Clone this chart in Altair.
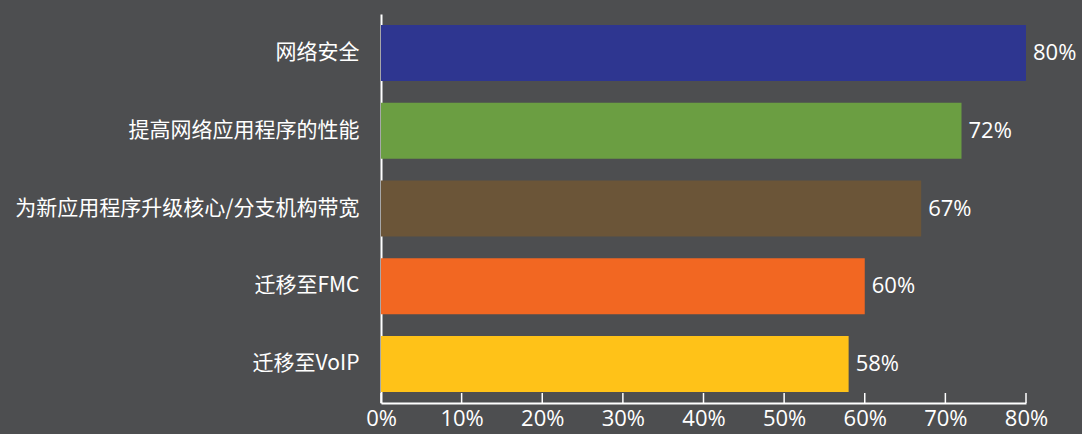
import altair as alt
import pandas as pd

categories = ["网络安全", "提高网络应用程序的性能", "为新应用程序升级核心/分支机构带宽", "迁移至FMC", "迁移至VoIP"]
values = [80, 72, 67, 60, 58]
colors = ["#2e3690", "#6b9e42", "#6b5538", "#f26722", "#ffc218"]
labels = [f"{v}%" for v in values]
tick_values = [0, 10, 20, 30, 40, 50, 60, 70, 80]

BG = "#4d4e50"
H = 389
df = pd.DataFrame({"cat": categories, "val": values, "label": labels})
tdf = pd.DataFrame({"t": tick_values})

xscale = alt.Scale(domain=[0, 80])

bars = alt.Chart(df).mark_bar().encode(
    x=alt.X("val:Q", title=None, scale=xscale,
            axis=alt.Axis(values=tick_values,
                          labelExpr="datum.value + '%'",
                          labelAlign="center", labelFlush=False, labelOverlap=False,
                          labelColor="white", labelFontSize=22, labelFont="Open Sans",
                          labelPadding=5, ticks=False,
                          domainColor="white", domainWidth=2, grid=False)),
    y=alt.Y("cat:N", sort=categories, title=None,
            scale=alt.Scale(paddingInner=0.28, paddingOuter=0.14),
            axis=alt.Axis(labelColor="white", labelFontSize=21, labelFont="Noto Sans CJK SC",
                          labelPadding=22, ticks=False, domainColor="white", domainWidth=2,
                          labelLimit=400)),
    color=alt.Color("cat:N", scale=alt.Scale(domain=categories, range=colors), legend=None),
)

text = alt.Chart(df).mark_text(align="left", baseline="middle", dx=7, color="white",
                               fontSize=22, font="Open Sans").encode(
    x="val:Q", y=alt.Y("cat:N", sort=categories), text="label:N")

ticks = alt.Chart(tdf).mark_rule(color="white", strokeWidth=1.5).encode(
    x=alt.X("t:Q", scale=xscale),
    y=alt.value(H - 10), y2=alt.value(H))

chart = (bars + text + ticks).properties(
    width=645, height=H, background=BG,
    padding={"left": 381, "top": 14, "right": 56, "bottom": 30},
    autosize=alt.AutoSizeParams(type="none"),
).configure_view(stroke=None)

chart.save("out.html", embed_options={"renderer": "svg", "actions": False})

with open("out.html", encoding="utf-8") as f:
    html = f.read()
html = html.replace("</head>", f"<style>html,body{{margin:0;padding:0;background:{BG};overflow:hidden}}</style></head>", 1)
with open("out.html", "w", encoding="utf-8") as f:
    f.write(html)
